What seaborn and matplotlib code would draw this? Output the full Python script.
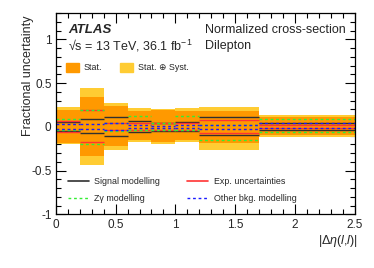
import matplotlib
matplotlib.use('Agg')
import matplotlib.pyplot as plt
import seaborn as sns
import numpy as np
from matplotlib.patches import Patch
from matplotlib.lines import Line2D
from matplotlib.ticker import MultipleLocator

# bin edges in |delta eta(l,l)|
edges = [0.0, 0.2, 0.4, 0.6, 0.8, 1.0, 1.2, 1.7, 2.5]

# total (stat + syst) and stat-only bands
syst_up = [0.23, 0.445, 0.27, 0.22, 0.205, 0.22, 0.23, 0.14]
syst_dn = [-0.195, -0.44, -0.26, -0.175, -0.19, -0.175, -0.26, -0.115]
stat_up = [0.19, 0.34, 0.24, 0.18, 0.19, 0.18, 0.18, 0.115]
stat_dn = [-0.18, -0.33, -0.22, -0.145, -0.175, -0.15, -0.18, -0.09]

# individual sources
signal_up = [0.055, 0.09, 0.115, 0.065, 0.05, 0.06, 0.115, 0.045]
signal_dn = [-0.05, -0.07, -0.1, -0.06, -0.05, -0.05, -0.095, -0.035]
exp_up = [0.07, 0.19, 0.05, 0.05, 0.04, 0.04, 0.075, 0.025]
exp_dn = [-0.06, -0.17, -0.04, -0.04, -0.04, -0.04, -0.07, -0.015]
zg_up = [0.085, 0.19, 0.05, 0.13, 0.045, 0.12, 0.02, 0.085]
zg_dn = [-0.03, -0.2, -0.05, -0.03, -0.03, -0.03, -0.15, -0.06]
oth_up = [0.035, 0.035, 0.045, 0.025, 0.015, 0.02, 0.02, 0.04]
oth_dn = [-0.02, -0.02, -0.03, -0.01, -0.015, -0.015, -0.02, -0.01]

sns.set_theme(style='ticks')
plt.rcParams['font.family'] = ['Liberation Sans', 'DejaVu Sans']
plt.rcParams['mathtext.fontset'] = 'custom'
plt.rcParams['mathtext.rm'] = 'Liberation Sans'
plt.rcParams['mathtext.it'] = 'Liberation Sans:italic'

c_stat = '#ff9900'
c_syst = '#ffcc33'
c_sig = '#303030'
c_exp = '#ff3333'
c_zg = '#33ee33'
c_oth = '#1a1aff'

fig = plt.figure(figsize=(3.74, 2.68), dpi=100)
ax = fig.add_axes([0.149, 0.2, 0.8, 0.751])

lo = np.array(edges[:-1])
w = np.diff(edges)
ax.bar(lo, np.array(syst_up) - np.array(syst_dn), bottom=syst_dn, width=w,
       align='edge', color=c_syst, linewidth=0)
ax.bar(lo, np.array(stat_up) - np.array(stat_dn), bottom=stat_dn, width=w,
       align='edge', color=c_stat, linewidth=0)

hi = np.array(edges[1:])
for up, dn, col, ls in [(signal_up, signal_dn, c_sig, '-'),
                        (exp_up, exp_dn, c_exp, '-'),
                        (zg_up, zg_dn, c_zg, (0, (2, 2))),
                        (oth_up, oth_dn, c_oth, (0, (2, 2)))]:
    ax.hlines(up, lo, hi, colors=col, linestyles=ls, linewidth=1.0)
    ax.hlines(dn, lo, hi, colors=col, linestyles=ls, linewidth=1.0)

ax.set_xlim(0, 2.5)
ax.set_ylim(-1, 1.3)
ax.xaxis.set_minor_locator(MultipleLocator(0.1))
ax.yaxis.set_minor_locator(MultipleLocator(0.1))
ax.set_xticks([0, 0.5, 1, 1.5, 2, 2.5])
ax.set_xticklabels(['0', '0.5', '1', '1.5', '2', '2.5'])
ax.set_yticks([-1, -0.5, 0, 0.5, 1])
ax.set_yticklabels(['-1', '-0.5', '0', '0.5', '1'])
ax.tick_params(which='both', direction='in', top=True, right=True, labelsize=8.5,
               color='black', width=0.8)
ax.tick_params(which='major', length=7, pad=3)
ax.tick_params(which='minor', length=3.5)
for s in ax.spines.values():
    s.set_color('black')
    s.set_linewidth(0.9)

ax.set_ylabel('Fractional uncertainty', fontsize=9, ha='right', va='center')
ax.yaxis.set_label_coords(-0.093, 0.99)
ax.set_xlabel(r'|$\Delta\eta$($l$,$l$)|', fontsize=9, ha='right', x=1.01, labelpad=2)

ax.text(0.041, 0.915, 'ATLAS', transform=ax.transAxes, fontsize=9.5,
        fontweight='bold', fontstyle='italic', va='center')
ax.text(0.041, 0.836, '\u221as = 13 TeV, 36.1 fb$^{-1}$', transform=ax.transAxes,
        fontsize=9, va='center')
ax.text(0.499, 0.915, 'Normalized cross-section', transform=ax.transAxes,
        fontsize=9, va='center')
ax.text(0.499, 0.836, 'Dilepton', transform=ax.transAxes, fontsize=9, va='center')

leg1 = ax.legend(handles=[Patch(color=c_stat, label='Stat.'),
                          Patch(color=c_syst, label='Stat. \u2295 Syst.')],
                 ncol=2, loc='center left', bbox_to_anchor=(0.035, 0.729),
                 frameon=False, fontsize=6.4, handlelength=1.4, handleheight=1.2,
                 handletextpad=0.6, columnspacing=2.0, borderpad=0, borderaxespad=0)
ax.add_artist(leg1)

ax.legend(handles=[Line2D([], [], color=c_sig, lw=1.2, label='Signal modelling'),
                   Line2D([], [], color=c_zg, lw=1.0, ls=(0, (2, 2)), label='Z\u03b3 modelling'),
                   Line2D([], [], color=c_exp, lw=1.2, label='Exp. uncertainties'),
                   Line2D([], [], color=c_oth, lw=1.0, ls=(0, (2, 2)), label='Other bkg. modelling')],
          ncol=2, loc='center left', bbox_to_anchor=(0.04, 0.123), frameon=False,
          fontsize=6.4, handlelength=2.4, handletextpad=0.6, columnspacing=3.0,
          labelspacing=0.9, borderpad=0, borderaxespad=0)

fig.savefig('out.png', dpi=100)
